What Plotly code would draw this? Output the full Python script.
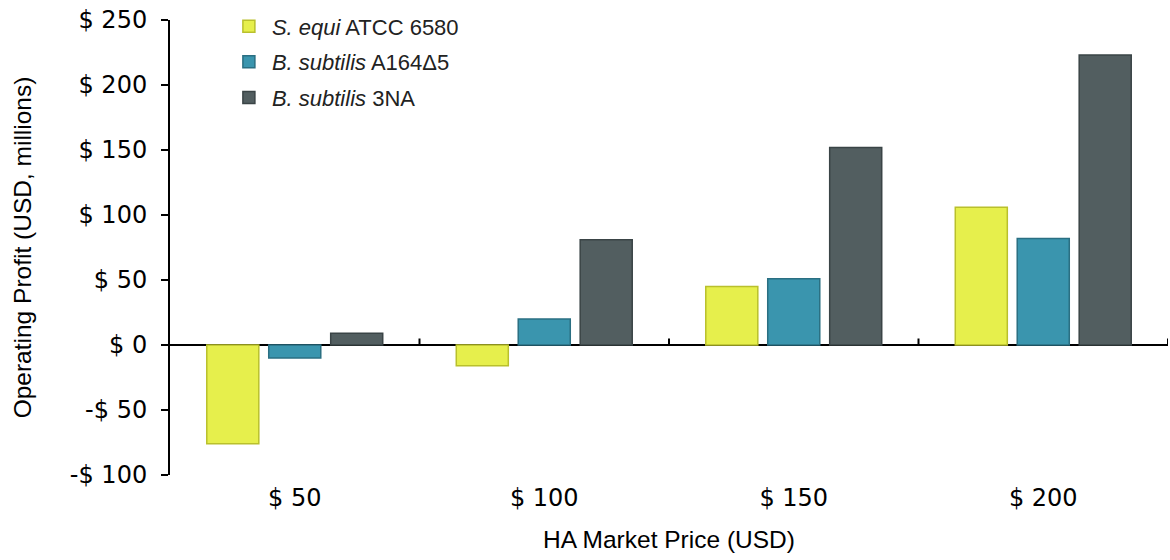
import plotly.graph_objects as go

categories = ["$ 50", "$ 100", "$ 150", "$ 200"]
series_names = ["<i>S. equi</i> ATCC 6580", "<i>B. subtilis</i> A164Δ5", "<i>B. subtilis</i> 3NA"]
s_equi = [-76, -16, 45, 106]
bs_a164 = [-10, 20, 51, 82]
bs_3na = [9, 81, 152, 223]
colors = ["#E6EF4C", "#3A95AE", "#525E60"]
line_colors = ["#B9C02C", "#2A6F82", "#3A4446"]
y_ticks = [-100, -50, 0, 50, 100, 150, 200, 250]
y_ticktext = [("-$ " if v < 0 else "$ ") + str(abs(v)) for v in y_ticks]

fig = go.Figure()
for i, (name, vals, c, lc) in enumerate(zip(series_names, [s_equi, bs_a164, bs_3na], colors, line_colors)):
    fig.add_trace(go.Bar(x=categories, y=vals, name=name, legendgroup=f"g{i}",
                         marker=dict(color=c, line=dict(color=lc, width=1.5))))

# category boundary tick marks on the zero line
for i in range(len(categories)):
    fig.add_shape(type="line", xref="x", yref="y", x0=i + 0.5, x1=i + 0.5,
                  y0=0, y1=5, line=dict(color="black", width=2))

fig.update_layout(
    width=1170, height=560,
    paper_bgcolor="white", plot_bgcolor="white",
    margin=dict(l=170, r=2, t=20, b=85),
    barmode="group", bargap=0.255, bargroupgap=0.16,
    showlegend=True,
    legend=dict(x=0.056, y=1.032, xanchor="left", yanchor="top",
                font=dict(family="Liberation Sans, Arial", size=22, color="#222"),
                bgcolor="rgba(0,0,0,0)", itemwidth=36, tracegroupgap=4),
    font=dict(family="DejaVu Sans, Verdana", size=24, color="black"),
)
fig.update_xaxes(
    showline=False, showgrid=False, ticks="", ticklen=0, ticklabelstandoff=6,
    tickfont=dict(family="DejaVu Sans, Verdana", size=24),
    title=dict(text="HA Market Price (USD)", font=dict(family="Liberation Sans, Arial", size=24.5), standoff=19),
    range=[-0.5, len(categories) - 0.5], automargin=False,
)
fig.update_yaxes(
    range=[-100, 250], tickvals=y_ticks, ticktext=y_ticktext,
    showline=True, linecolor="black", linewidth=2, ticks="outside", ticklen=7,
    tickwidth=2, tickcolor="black", showgrid=False, ticklabelstandoff=9,
    zeroline=True, zerolinecolor="black", zerolinewidth=2,
    tickfont=dict(family="DejaVu Sans, Verdana", size=24),
    title=dict(text="Operating Profit (USD, millions)", font=dict(family="Liberation Sans, Arial", size=24.5), standoff=31),
    automargin=False,
)
fig.write_html("out.html", config={"displayModeBar": False},
               post_script="document.body.style.margin='0';document.body.style.overflow='hidden';")
